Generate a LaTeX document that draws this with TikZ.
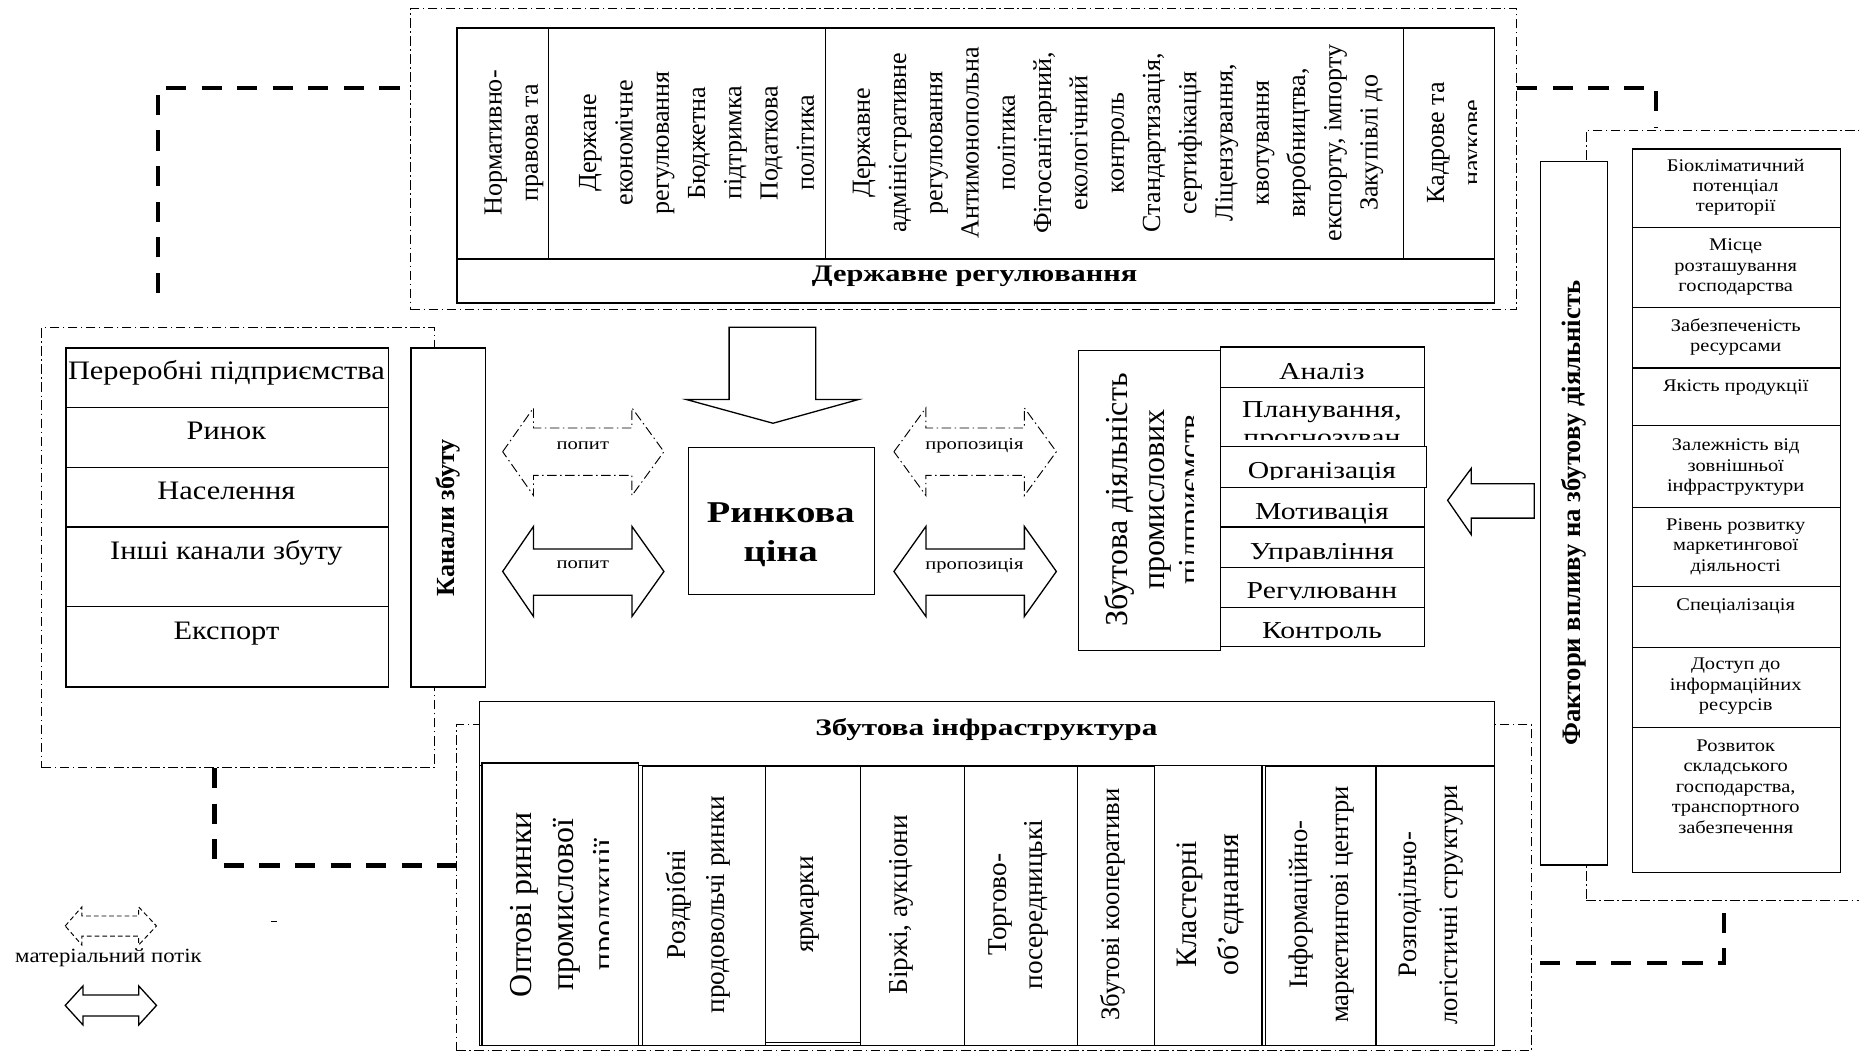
\documentclass[tikz,border=0pt]{standalone}
\usepackage{fontspec}
\setmainfont{Liberation Serif}
\usetikzlibrary{calc}
\newcommand\tf[3]{\fontsize{#1}{#2}\selectfont\addfontfeature{FakeStretch=#3}}
\newcommand\rf[2]{\fontsize{#1}{#2}\selectfont}
\newcommand\bxn[5]{\node[bx, minimum width={#4-#2}, minimum height={#5-#3}] (#1) at (#2,#3) {};}
\newcommand\frn[5]{\node[ddframe, minimum width={#4-#2}, minimum height={#5-#3}] (#1) at (#2,#3) {};}
\newcommand\dbl[9]{\draw[#1] (#2,{(#6+#9)/2}) -- (#3,#6) -- (#3,#7) -- (#4,#7) -- (#4,#6) -- (#5,{(#6+#9)/2}) -- (#4,#9) -- (#4,#8) -- (#3,#8) -- (#3,#9) -- cycle;}
\begin{document}
\begin{tikzpicture}[x=1pt,y=-1pt,
  bx/.style={draw, line width=1.1pt, fill=white, inner sep=0pt, anchor=north west},
  ddframe/.style={draw, line width=0.8pt, dash pattern=on 8pt off 3pt on 1.2pt off 3pt, inner sep=0pt, anchor=north west},
  ddline/.style={line width=0.8pt, dash pattern=on 8pt off 3pt on 1.2pt off 3pt, fill=white},
  legdash/.style={line width=0.8pt, dash pattern=on 4pt off 2.5pt},
  flow/.style={line width=3.6pt, dash pattern=on 17pt off 13pt},
  rt/.style={rotate=90, align=center, inner sep=0pt},
  ht/.style={align=center, inner sep=0pt},
  hollow/.style={draw, line width=1.1pt, fill=white, line join=miter},
  actx/.style={ht, anchor=base, font=\tf{20.5}{24}{1.22}},
  lstx/.style={ht, anchor=base, font=\tf{22.5}{26}{1.14}},
  factx/.style={ht, font=\tf{15}{17.2}{1.15}}]
\useasboundingbox (0,0) rectangle (1568,889);
\fill[white] (0,0) rectangle (1568,889);

% ---------- frames ----------
\frn{topfr}{346}{7}{1279}{261}
\frn{lfr}{35}{276}{366}{647}
\frn{botfr}{384.6}{611}{1291.7}{885.6}
\frn{facfr}{1337.5}{109.6}{1620}{759}

% ---------- thick flows ----------
\coordinate (fa) at (133,247);
\coordinate (fb) at (1397,108);
\coordinate (fc) at (1454,765);
\draw[flow] (fa) |- (topfr.west |- 0,74);
\draw[flow] (topfr.east |- 0,74) -| (fb);
\draw[flow] (lfr.south -| 181,0) |- (botfr.west |- 0,730);

% ---------- top: state regulation ----------
\bxn{topbox}{385}{23}{1260}{255}
\bxn{tc1}{385}{23}{462}{218}
\bxn{tc2}{462}{23}{696}{218}
\bxn{tc3}{696}{23}{1183}{218}
\bxn{tc4}{1183}{23}{1260}{218}
\node[ht, anchor=base, font={\bfseries\tf{20}{24}{1.28}}] (tt) at (822,237.5) {Державне регулювання};
\node[rt, font=\rf{22}{30.6}] (t1) at (433.6,120.5) {Нормативно-\\правова та};
\node[rt, font=\rf{22}{30.6}] (t2) at (587.6,120.5) {Держане\\економічне\\регулювання\\Бюджетна\\підтримка\\Податкова\\політика};
\node[rt, font=\rf{22}{30.6}] (t3) at (943,120.5) {Державне\\адміністративне\\регулювання\\Антимонопольна\\політика\\Фітосанітарний,\\екологічний\\контроль\\Стандартизація,\\сертифікація\\Ліцензування,\\квотування\\виробництва,\\експорту, імпорту\\Закупівлі до};
\begin{scope}
\clip (1183,23) rectangle (1245,218);
\node[rt, font=\rf{22}{30.6}] (t4) at (1228.5,120.5) {Кадрове та\\наукове};
\end{scope}

% ---------- left: channels ----------
\bxn{l1}{55}{293}{327}{343}
\bxn{l2}{55}{343}{327}{394}
\bxn{l3}{55}{394}{327}{444}
\bxn{l4}{55}{444}{327}{511}
\bxn{l5}{55}{511}{327}{579}
\node[lstx] (l1t) at (191,320.5) {Переробні підприємства};
\node[lstx] (l2t) at (191,371) {Ринок};
\node[lstx] (l3t) at (191,421.7) {Населення};
\node[lstx] (l4t) at (191,472.3) {Інші канали збуту};
\node[lstx] (l5t) at (191,539) {Експорт};
\bxn{kan}{346}{293}{409}{579}
\node[rt, font={\bfseries\rf{22}{26}}] (kant) at (kan.center) {Канали збуту};

% ---------- centre ----------
\draw[hollow] (615,276) -- (688,276) -- (688,337) -- (724,337) -- (652,357) -- (579,337) -- (615,337) -- cycle;
\bxn{price}{580}{377}{737}{501}
\node[ht, font={\bfseries\tf{25.5}{33}{1.27}}] (pricet) at (658.5,451) {Ринкова\\ціна};
\dbl{ddline}{424}{450}{533}{560}{344}{361}{401}{418}
\dbl{hollow}{424}{450}{533}{560}{444}{463}{502}{520}
\dbl{ddline}{754}{781}{864}{891}{344}{361}{401}{418}
\dbl{hollow}{754}{781}{864}{891}{444}{463}{502}{520}
\node[ht, anchor=base, font=\tf{14}{16}{1.24}] (d1) at (491.6,379.5) {попит};
\node[ht, anchor=base, font=\tf{14}{16}{1.24}] (d2) at (491.6,479.8) {попит};
\node[ht, anchor=base, font=\tf{14}{16}{1.24}] (s1) at (822,379) {пропозиція};
\node[ht, anchor=base, font=\tf{14}{16}{1.24}] (s2) at (822,480.7) {пропозиція};

% ---------- sales activity ----------
\bxn{sd}{909}{295}{1029}{548}
\begin{scope}
\clip (909,295) rectangle (1007,548);
\node[rt, font=\rf{27}{31}] (sdt) at (975,421.5) {Збутова діяльність\\промислових\\підприємств};
\end{scope}
\bxn{a1}{1029}{292}{1201}{326}
\bxn{a2}{1029}{326}{1201}{376}
\bxn{a3}{1029}{376}{1202.5}{410.5}
\bxn{a4}{1029}{410.5}{1201}{444}
\bxn{a5}{1029}{444}{1201}{478}
\bxn{a6}{1029}{478}{1201}{512}
\bxn{a7}{1029}{512}{1201}{545}
\node[actx] (a1t) at (1115,320) {Аналіз};
\node[actx] (a2t) at (1115,352) {Планування,};
\begin{scope}\clip (1029,326) rectangle (1201,371);
\node[actx] (a2u) at (1115,376) {прогнозуван};\end{scope}
\begin{scope}\clip (1029,376) rectangle (1201,404.5);
\node[actx] (a3t) at (1115,403.4) {Організація};\end{scope}
\node[actx] (a4t) at (1115,438) {Мотивація};
\begin{scope}\clip (1029,444) rectangle (1201,473.5);
\node[actx] (a5t) at (1115,472.3) {Управління};\end{scope}
\begin{scope}\clip (1029,478) rectangle (1201,506);
\node[actx] (a6t) at (1115,504.7) {Регулюванн};\end{scope}
\begin{scope}\clip (1029,512) rectangle (1201,539.5);
\node[actx] (a7t) at (1115,538.4) {Контроль};\end{scope}
\draw[hollow] (1221,422) -- (1241,395) -- (1241,408) -- (1294,408) -- (1294,437) -- (1241,437) -- (1241,451) -- cycle;

% ---------- factors ----------
\bxn{fac}{1299}{135.5}{1355.5}{729}
\node[rt, font={\bfseries\rf{22.5}{26}}] (fact) at (fac.center) {Фактори впливу на збутову діяльність};
\draw[flow] (fac.west |- 0,812) -| (fc);
\bxn{f1}{1376.6}{125}{1552}{191.5}
\bxn{f2}{1376.6}{191.5}{1552}{258.7}
\bxn{f3}{1376.6}{258.7}{1552}{309.8}
\bxn{f4}{1376.6}{309.8}{1552}{358.5}
\bxn{f5}{1376.6}{358.5}{1552}{427.4}
\bxn{f6}{1376.6}{427.4}{1552}{494.3}
\bxn{f7}{1376.6}{494.3}{1552}{545.4}
\bxn{f8}{1376.6}{545.4}{1552}{613}
\bxn{f9}{1376.6}{613}{1552}{735.2}
\node[factx] (f1t) at (1464,158) {Біокліматичний\\потенціал\\території};
\node[factx] (f2t) at (1464,225.5) {Місце\\розташування\\господарства};
\node[factx] (f3t) at (1464,284.5) {Забезпеченість\\ресурсами};
\node[factx] (f4t) at (1464,326.5) {Якість продукції};
\node[factx] (f5t) at (1464,394) {Залежність від\\зовнішньої\\інфраструктури};
\node[factx] (f6t) at (1464,461) {Рівень розвитку\\маркетингової\\діяльності};
\node[factx] (f7t) at (1464,511.5) {Спеціалізація};
\node[factx] (f8t) at (1464,579) {Доступ до\\інформаційних\\ресурсів};
\node[factx] (f9t) at (1464,663.5) {Розвиток\\складського\\господарства,\\транспортного\\забезпечення};

% ---------- bottom: infrastructure ----------
\bxn{bbox}{404}{591}{1260}{881.4}
\draw[line width=1.1pt] (bbox.west |- 0,645.5) -- (bbox.east |- 0,645.5);
\node[ht, anchor=base, font={\bfseries\tf{20}{24}{1.32}}] (bt) at (832,620) {Збутова інфраструктура};
\bxn{b1}{406}{643}{538}{881.4}
\bxn{b2}{541.5}{646}{645}{881.4}
\bxn{b3}{645}{646}{725}{878.6}
\bxn{b4}{725}{646}{813}{881.4}
\bxn{b5}{813}{646}{908}{881.4}
\bxn{b6}{908}{646}{973}{881.4}
\bxn{b7}{973}{645}{1064}{881.4}
\bxn{b8}{1067}{646}{1160}{881.4}
\bxn{b9}{1160}{646}{1260}{881.4}
\begin{scope}\clip (406,643) rectangle (513,881);
\node[rt, font=\rf{27}{35}] (b1t) at (477.5,763) {Оптові ринки\\промислової\\продукції};\end{scope}
\node[rt, font=\rf{23}{33}] (b2t) at (589,763) {Роздрібні\\продовольчі ринки};
\node[rt, font=\rf{23}{33}] (b3t) at (683,763) {ярмарки};
\node[rt, font=\rf{23}{33}] (b4t) at (760,763) {Біржі, аукціони};
\node[rt, font=\rf{23}{31}] (b5t) at (859,763) {Торгово-\\посередницькі};
\node[rt, font=\rf{22.5}{33}] (b6t) at (938.5,763) {Збутові кооперативи};
\node[rt, font=\rf{25}{34.7}] (b7t) at (1021,763) {Кластерні\\об’єднання};
\node[rt, font=\rf{22.5}{34.8}] (b8t) at (1115,763) {Інформаційно-\\маркетингові центри};
\node[rt, font=\rf{22.5}{34.7}] (b9t) at (1207,763) {Розподільчо-\\логістичні структури};

% ---------- legend ----------
\dbl{legdash}{55}{69}{117}{132}{765}{772.6}{789.5}{797}
\node[ht, anchor=base, font=\tf{17}{20}{1.13}] (legt) at (91.5,812) {матеріальний потік};
\dbl{hollow}{55}{70}{117}{132}{831.6}{839.3}{857}{864.5}
\coordinate (m1) at (228.5,777.4);
\coordinate (m2) at (233.6,777.4);
\draw[line width=1.3pt] (m1) -- (m2);
\end{tikzpicture}
\end{document}
